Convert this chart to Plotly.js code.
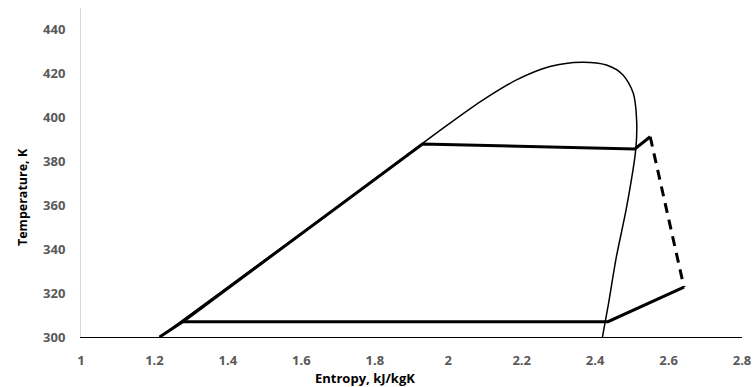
<!DOCTYPE html>
<html>
<head>
<meta charset="utf-8">
<script src="https://cdn.plot.ly/plotly-3.0.1.min.js"></script>
<style>html,body{margin:0;padding:0;background:#fff;}#chart{width:756px;height:387px;}</style>
</head>
<body>
<div id="chart"></div>
<script>
// Saturation dome (entropy kJ/kgK, temperature K)
const domeS = [1.214, 1.50, 1.70, 1.930, 2.004, 2.095, 2.186, 2.277, 2.363, 2.431, 2.476, 2.504, 2.513, 2.511, 2.486, 2.458, 2.435, 2.420];
const domeT = [300.0, 335.0, 359.5, 388.3, 397.4, 408.1, 417.2, 423.3, 425.3, 424.0, 419.5, 411.1, 399.0, 386.0, 359.4, 336.6, 313.8, 300.0];

// Cycle: heating, evaporation, superheat (solid)
const cycleHotS = [1.214, 1.277, 1.930, 2.508, 2.550];
const cycleHotT = [300.0, 307.0, 388.0, 385.7, 391.3];
// Expansion (dashed)
const expS = [2.550, 2.642];
const expT = [391.3, 322.7];
// Cooling and condensation (solid)
const coldS = [2.642, 2.435, 1.277];
const coldT = [322.7, 307.0, 307.0];

const xTicks = [1, 1.2, 1.4, 1.6, 1.8, 2, 2.2, 2.4, 2.6, 2.8];
const yTicks = [300, 320, 340, 360, 380, 400, 420, 440];

const traces = [
  {x: domeS, y: domeT, mode: 'lines', line: {color: '#000', width: 1.5, shape: 'spline', smoothing: 0.8}, hoverinfo: 'skip'},
  {x: cycleHotS, y: cycleHotT, mode: 'lines', line: {color: '#000', width: 3}},
  {x: expS, y: expT, mode: 'lines', line: {color: '#000', width: 3, dash: '10px,7px'}},
  {x: coldS, y: coldT, mode: 'lines', line: {color: '#000', width: 3}}
];

const FONT = 'Open Sans, Liberation Sans, Arial, sans-serif';
const tickFont = {family: FONT, size: 13, color: '#595959', weight: 700};
const layout = {
  width: 756, height: 387,
  margin: {l: 81, r: 14, t: 8, b: 50},
  paper_bgcolor: '#fff', plot_bgcolor: '#fff',
  showlegend: false,
  xaxis: {
    range: [1, 2.8], tickvals: xTicks, ticktext: xTicks.map(String),
    showgrid: false, zeroline: false, showline: true, linecolor: '#000', linewidth: 1,
    ticks: '', tickfont: tickFont, ticklabelstandoff: 11
  },
  yaxis: {
    range: [300, 450], tickvals: yTicks, ticktext: yTicks.map(String),
    showgrid: false, zeroline: false, showline: true, linecolor: '#d9d9d9', linewidth: 1,
    ticks: '', tickfont: tickFont, ticklabelstandoff: 12
  },
  annotations: [
    {text: 'Entropy, kJ/kgK', xref: 'paper', yref: 'paper', x: (365 - 81) / 661, y: 0, yshift: -41,
     xanchor: 'center', yanchor: 'middle',
     showarrow: false, font: {family: FONT, size: 13, color: '#000', weight: 700}},
    {text: 'Temperature, K', xref: 'paper', yref: 'paper', x: 0, xshift: -59, y: (337 - 197) / 329,
     xanchor: 'center', yanchor: 'middle',
     textangle: -90, showarrow: false, font: {family: FONT, size: 12.5, color: '#000', weight: 700}}
  ]
};

Plotly.newPlot('chart', traces, layout, {displayModeBar: false, staticPlot: true});
</script>
</body>
</html>
